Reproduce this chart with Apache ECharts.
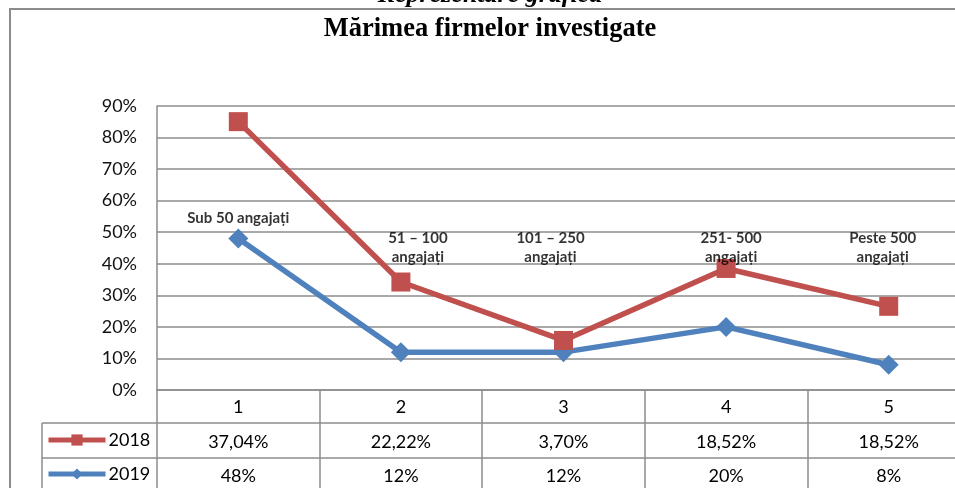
<!DOCTYPE html>
<html>
<head>
<meta charset="utf-8">
<script src="https://cdn.jsdelivr.net/npm/echarts@6/dist/echarts.min.js"></script>
<style>
  html, body { margin: 0; padding: 0; background: #fff; }
  #chart { width: 955px; height: 488px; }
</style>
</head>
<body>
<div id="chart"></div>
<script>
// ---- data ----
const categories = ['1', '2', '3', '4', '5'];
const values2018 = [0.3704, 0.2222, 0.0370, 0.1852, 0.1852];
const values2019 = [0.48, 0.12, 0.12, 0.20, 0.08];
const table2018 = ['37,04%', '22,22%', '3,70%', '18,52%', '18,52%'];
const table2019 = ['48%', '12%', '12%', '20%', '8%'];
const groupLabels = ['Sub 50 angajați', '51 – 100\nangajați', '101 – 250\nangajați', '251- 500\nangajați', 'Peste 500\nangajați'];
const seriesNames = ['2018', '2019'];
const yMin = 0, yMax = 0.9, yStep = 0.1;

// ---- layout / style ----
const labelLevels = [0.545, 0.45, 0.45, 0.45, 0.45];
const labelOffsets = [0, 17, -13, 5, -6];
const legendTops = [431, 465];
const gray = '#8c8c8c';
const red = '#C0504D';
const blue = '#4F81BD';
const font = 'Lato';

const chart = echarts.init(document.getElementById('chart'));

const tableLines = [
  { type: 'line', shape: { x1: 42, y1: 423, x2: 1000, y2: 423 } },
  { type: 'line', shape: { x1: 42, y1: 458, x2: 1000, y2: 458 } },
  { type: 'line', shape: { x1: 42, y1: 423, x2: 42, y2: 500 } }
].map(l => Object.assign(l, { silent: true, style: { stroke: gray, lineWidth: 1.5 }, z: 1 }));

const legendBase = {
  orient: 'vertical',
  left: 46,
  itemWidth: 57, itemHeight: 14,
  padding: 0,
  lineStyle: { width: 5 },
  textStyle: { fontFamily: font, fontSize: 18, color: '#000', padding: [0, 0, 0, -2] },
  selectedMode: false
};

const tableLabel = { fontFamily: font, fontSize: 18, color: '#000', margin: 8, interval: 0 };

chart.setOption({
  animation: false,
  backgroundColor: '#fff',
  title: [
    {
      text: 'Reprezentare grafică', left: 490, textAlign: 'center', top: -18, padding: 0,
      textStyle: { fontFamily: 'Liberation Serif', fontStyle: 'italic', fontWeight: 'bold', fontSize: 26, color: '#000' }
    },
    {
      text: 'Mărimea firmelor investigate', left: 490, textAlign: 'center', top: 16, padding: 0,
      textStyle: { fontFamily: 'Liberation Serif', fontWeight: 'bold', fontSize: 26.5, color: '#000' }
    }
  ],
  graphic: [
    { type: 'rect', silent: true, z: 0, shape: { x: 10, y: 9, width: 1000, height: 600 },
      style: { fill: 'none', stroke: gray, lineWidth: 2 } }
  ].concat(tableLines),
  legend: seriesNames.map((n, i) => Object.assign({}, legendBase, { data: [n], top: legendTops[i] })),
  grid: { left: 157, top: 106, width: 813, height: 284, outerBoundsMode: 'none', containLabel: false },
  xAxis: [
    {
      type: 'category', data: categories, boundaryGap: true,
      axisLine: { show: true, lineStyle: { color: gray, width: 1.5 } },
      axisTick: { show: true, length: 110, lineStyle: { color: gray, width: 1.5 } },
      axisLabel: tableLabel,
      splitLine: { show: false }
    },
    {
      type: 'category', data: table2018, position: 'bottom', offset: 35,
      axisLine: { show: false }, axisTick: { show: false },
      axisLabel: tableLabel
    },
    {
      type: 'category', data: table2019, position: 'bottom', offset: 69,
      axisLine: { show: false }, axisTick: { show: false },
      axisLabel: tableLabel
    }
  ],
  yAxis: {
    type: 'value', min: yMin, max: yMax, interval: yStep,
    axisLine: { show: true, lineStyle: { color: gray, width: 1.5 } },
    axisTick: { show: false },
    axisLabel: {
      fontFamily: font, fontSize: 18, color: '#111', margin: 20,
      formatter: v => Math.round(v * 100) + '%'
    },
    splitLine: { show: true, lineStyle: { color: gray, width: 1.5 } }
  },
  series: [
    {
      name: '2019', type: 'line', stack: 'total', data: values2019,
      symbol: 'diamond', symbolSize: 20,
      lineStyle: { color: blue, width: 5.5 },
      itemStyle: { color: blue },
      z: 3
    },
    {
      name: '2018', type: 'line', stack: 'total', data: values2018,
      symbol: 'rect', symbolSize: 19,
      lineStyle: { color: red, width: 5.5 },
      itemStyle: { color: red },
      z: 4
    },
    {
      name: 'labels', type: 'scatter', silent: true, symbolSize: 0, z: 5,
      data: groupLabels.map((t, i) => ({
        value: [i, labelLevels[i]],
        label: { offset: [labelOffsets[i], 0] }
      })),
      label: {
        show: true, position: 'inside',
        formatter: p => groupLabels[p.dataIndex],
        fontFamily: font, fontWeight: 'bold', fontSize: 15, lineHeight: 19, color: '#000', align: 'center'
      }
    }
  ]
});
</script>
</body>
</html>
